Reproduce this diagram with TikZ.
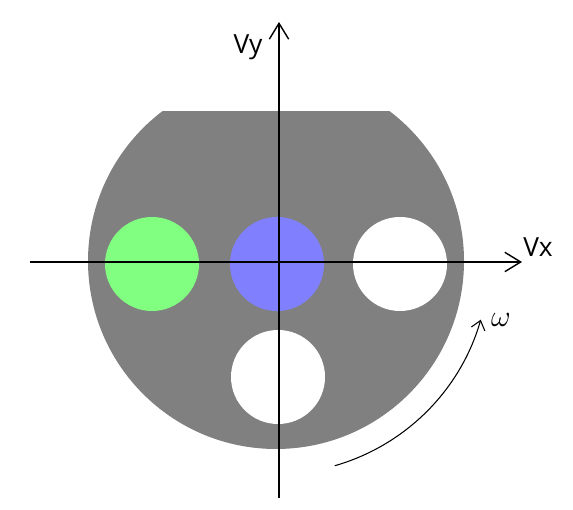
\documentclass[tikz,border=0pt]{standalone}
\usepackage{fontspec}
\setmainfont{Open Sans}
\usetikzlibrary{arrows.meta}

\definecolor{disk}{RGB}{128,128,128}
\definecolor{greenhole}{RGB}{128,255,128}
\definecolor{bluehole}{RGB}{128,128,255}

\tikzset{
  axis/.style={line width=.8pt, -{Straight Barb[length=9pt,width=11pt]}},
  spin/.style={line width=.6pt, -{Straight Barb[length=5pt,width=8pt]}},
  lbl/.style={font=\fontsize{15}{18}\selectfont, inner sep=0pt}
}

\begin{document}
\begin{tikzpicture}[x=.02cm,y=.02cm]
  \useasboundingbox (0,0) rectangle (573,509);
  \coordinate (c) at (276,248);
  \begin{scope}
    \clip (0,0) rectangle (573,397);
    \fill[disk] (c) circle (188);
  \end{scope}
  \fill[greenhole] (152,245) circle (47);
  \fill[bluehole] (277,245) circle (47);
  \fill[white] (400,245) circle (47);
  \fill[white] (278,132) circle (47);

  \coordinate (xl) at (30,247);
  \coordinate (xr) at (522,247);
  \coordinate (yb) at (279,11);
  \coordinate (yt) at (279,487);
  \draw[axis] (xl) -- (xr);
  \draw[axis] (yb) -- (yt);
  \node (vx) [lbl] at (538,262) {Vx};
  \node (vy) [lbl] at (248,462) {Vy};

  \path (c) ++(-74:213) coordinate (ws);
  \draw[spin] (ws) arc[start angle=-74, end angle=-16, radius=213];
  \node (om) [font=\fontsize{17}{20}\selectfont, inner sep=0pt] at (501,189) {$\omega$};
\end{tikzpicture}
\end{document}
